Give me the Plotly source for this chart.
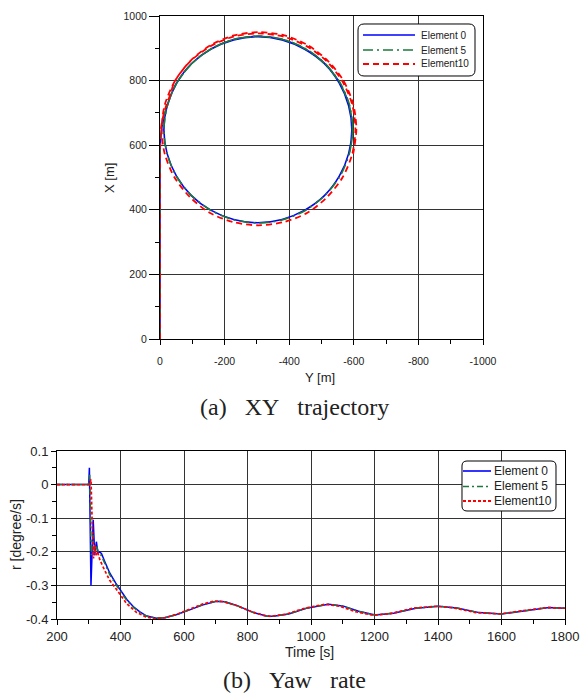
import plotly.graph_objects as go

# ---------------- data: XY trajectory ----------------
names = ["Element 0", "Element 5", "Element10"]

traj_e0_Y = [0, 0, 0, -1, -4, -10, -22, -36, -51, -97, -157, -228, -303, -378, -448, -509, -555,
             -584, -594, -584, -555, -509, -448, -378, -303, -228, -157, -97, -51, -22, -12,
             -22, -52, -98, -158, -229, -304, -379, -449, -510, -556, -585, -595, -585]
traj_e0_X = [0, 300, 560, 600, 640, 680, 720, 760, 792, 852, 897, 926, 936, 926, 897, 852, 792,
             722, 648, 574, 504, 444, 399, 370, 360, 370, 399, 444, 504, 574, 648,
             722, 793, 853, 898, 927, 937, 927, 898, 853, 793, 723, 649, 574]

traj_e5_Y = [0, 0, 0, -1, -4, -10, -22, -36, -51, -98, -158, -228, -304, -380, -450, -510, -557,
             -586, -596, -586, -557, -510, -450, -380, -304, -228, -158, -98, -51, -22, -12,
             -23, -52, -99, -159, -229, -305, -381, -451, -511, -558, -587, -597, -587]
traj_e5_X = [0, 300, 560, 600, 640, 680, 720, 760, 792, 852, 898, 927, 937, 927, 898, 852, 792,
             723, 648, 573, 503, 444, 398, 369, 359, 369, 398, 444, 503, 573, 648,
             723, 793, 853, 899, 928, 938, 928, 899, 853, 793, 724, 649, 574]

traj_e10_Y = [0, 0, 0, 0, -1, -4, -10, -20, -33, -45, -93, -155, -227, -305, -383, -455, -517,
              -565, -595, -605, -595, -565, -517, -455, -383, -305, -227, -155, -93, -45, -15, -5,
              -15, -47, -95, -157, -229, -307, -385, -457, -519, -568, -598, -608, -598]
traj_e10_X = [0, 300, 560, 600, 630, 660, 690, 725, 760, 797, 859, 906, 936, 946, 936, 906, 859,
              797, 726, 649, 572, 500, 439, 390, 362, 352, 362, 390, 439, 500, 572, 649,
              726, 800, 862, 910, 940, 950, 940, 910, 862, 800, 728, 650, 573]

# ---------------- data: yaw rate ----------------
yaw_e0_t = [200, 300, 302, 307, 314, 317, 319, 324, 329, 333, 340, 350, 366, 385, 403, 420, 440,
            460, 480, 513, 540, 580, 620, 660, 702, 730, 770, 820, 860, 882, 930, 990, 1055,
            1100, 1150, 1202, 1260, 1330, 1402, 1460, 1530, 1602, 1670, 1750, 1800]
yaw_e0_r = [0, 0, 0.05, -0.30, -0.105, -0.2, -0.21, -0.17, -0.205, -0.2, -0.205, -0.228, -0.263,
            -0.293, -0.319, -0.342, -0.363, -0.378, -0.39, -0.398, -0.396, -0.386, -0.372, -0.358,
            -0.347, -0.349, -0.361, -0.381, -0.391, -0.392, -0.385, -0.367, -0.356, -0.361, -0.377,
            -0.388, -0.383, -0.368, -0.362, -0.367, -0.381, -0.385, -0.376, -0.366, -0.368]

yaw_e5_t = [200, 300, 303, 308, 313, 318, 324, 330, 340, 350, 366, 385, 400, 420, 440, 460, 480,
            512, 540, 580, 620, 660, 700, 728, 768, 818, 858, 880, 928, 988, 1053, 1098, 1148,
            1200, 1258, 1328, 1400, 1458, 1528, 1600, 1668, 1748, 1800]
yaw_e5_r = [0, 0, 0.03, -0.21, -0.15, -0.2, -0.18, -0.2, -0.212, -0.232, -0.268, -0.297, -0.318,
            -0.345, -0.365, -0.38, -0.391, -0.398, -0.396, -0.386, -0.371, -0.357, -0.347, -0.349,
            -0.361, -0.381, -0.391, -0.392, -0.385, -0.367, -0.356, -0.361, -0.377, -0.388, -0.383,
            -0.368, -0.362, -0.367, -0.381, -0.385, -0.376, -0.366, -0.368]

yaw_e10_t = [200, 300, 303, 307, 311, 315, 319, 323, 328, 335, 350, 366, 382, 400, 420, 450, 480,
             510, 540, 580, 620, 660, 695, 720, 760, 810, 850, 872, 920, 980, 1045, 1090, 1140,
             1195, 1250, 1320, 1395, 1450, 1520, 1595, 1660, 1745, 1800]
yaw_e10_r = [0, 0, 0.005, 0.016, -0.12, -0.22, -0.18, -0.21, -0.2, -0.224, -0.255, -0.285, -0.305,
             -0.33, -0.355, -0.38, -0.394, -0.399, -0.396, -0.385, -0.37, -0.355, -0.347, -0.348,
             -0.358, -0.377, -0.389, -0.392, -0.386, -0.368, -0.356, -0.362, -0.378, -0.389, -0.384,
             -0.368, -0.362, -0.367, -0.381, -0.385, -0.376, -0.366, -0.368]

# ---------------- tick labels ----------------
xy_x_vals = [0, -200, -400, -600, -800, -1000]
xy_x_text = ["0", "-200", "-400", "-600", "-800", "-1000"]
xy_y_vals = [0, 200, 400, 600, 800, 1000]
xy_y_text = ["0", "200", "400", "600", "800", "1000"]
yaw_x_vals = [200, 400, 600, 800, 1000, 1200, 1400, 1600, 1800]
yaw_x_text = ["200", "400", "600", "800", "1000", "1200", "1400", "1600", "1800"]
yaw_y_vals = [0.1, 0, -0.1, -0.2, -0.3, -0.4]
yaw_y_text = ["0.1", "0", "-0.1", "-0.2", "-0.3", "-0.4"]

axis_titles = ["Y [m]", "X [m]", "Time [s]", "r [degree/s]"]
NB = "\u00a0"
captions = ["(a)" + NB * 3 + "XY" + NB * 3 + "trajectory", "(b)" + NB * 3 + "Yaw" + NB * 3 + "rate"]

# ---------------- styling ----------------
W, H = 581, 695
colors = ["#0000ff", "#1b7a3b", "#ff0000"]
top_dash = ["solid", "10px,4px,2px,4px", "6px,4px"]
bot_dash = ["solid", "6px,3px,2px,3px", "3px,2px"]
widths = [1.6, 1.6, 1.8]
FONT = "Liberation Sans, Arial, sans-serif"
SERIF = "Liberation Serif, Times New Roman, serif"
GRID = "#333333"
TXT = "#222"

fig = go.Figure()

traj = [(traj_e0_Y, traj_e0_X), (traj_e5_Y, traj_e5_X), (traj_e10_Y, traj_e10_X)]
for i, (yy, xx) in enumerate(traj):
    fig.add_trace(go.Scatter(x=yy, y=xx, mode="lines", name=names[i], showlegend=False,
                             line=dict(color=colors[i], width=widths[i], dash=top_dash[i],
                                       shape="spline", smoothing=0.8),
                             xaxis="x", yaxis="y"))

yaw = [(yaw_e0_t, yaw_e0_r), (yaw_e5_t, yaw_e5_r), (yaw_e10_t, yaw_e10_r)]
for i, (tt, rr) in enumerate(yaw):
    fig.add_trace(go.Scatter(x=tt, y=rr, mode="lines", name=names[i], showlegend=False,
                             line=dict(color=colors[i], width=widths[i] - 0.1, dash=bot_dash[i]),
                             xaxis="x2", yaxis="y2"))


def px_x(p):
    return p / W


def px_y(p):
    return 1 - p / H


def axis_common(size):
    return dict(showline=True, linecolor="black", linewidth=1, mirror=True,
                showgrid=True, gridcolor=GRID, gridwidth=1, zeroline=False,
                ticks="outside", ticklen=5, tickcolor="black", tickwidth=1,
                tickfont=dict(family=FONT, size=size, color=TXT),
                tickmode="array", automargin=False)


def rounded_box(x0, y0, x1, y1, r):
    X = lambda p: f"{px_x(p):.5f}"
    Y = lambda p: f"{px_y(p):.5f}"
    return (f"M {X(x0 + r)},{Y(y0)} L {X(x1 - r)},{Y(y0)} Q {X(x1)},{Y(y0)} {X(x1)},{Y(y0 + r)} "
            f"L {X(x1)},{Y(y1 - r)} Q {X(x1)},{Y(y1)} {X(x1 - r)},{Y(y1)} "
            f"L {X(x0 + r)},{Y(y1)} Q {X(x0)},{Y(y1)} {X(x0)},{Y(y1 - r)} "
            f"L {X(x0)},{Y(y0 + r)} Q {X(x0)},{Y(y0)} {X(x0 + r)},{Y(y0)} Z")


minor_cfg = dict(ticks="outside", ticklen=4, tickcolor="black", showgrid=False)

xa = axis_common(10.5)
xa.update(domain=[px_x(160), px_x(483)], range=[0, -1000], tickvals=xy_x_vals, ticktext=xy_x_text,
          minor=dict(dtick=100, **minor_cfg), anchor="y", ticklabelstandoff=7)
ya = axis_common(10.5)
ya.update(domain=[px_y(339), px_y(16)], range=[0, 1000], tickvals=xy_y_vals, ticktext=xy_y_text,
          minor=dict(dtick=100, **minor_cfg), ticklen=10, anchor="x")
xa2 = axis_common(13)
xa2.update(domain=[px_x(57), px_x(565)], range=[200, 1800], tickvals=yaw_x_vals, ticktext=yaw_x_text,
           minor=dict(dtick=100, **minor_cfg), anchor="y2")
ya2 = axis_common(13)
ya2.update(domain=[px_y(619), px_y(451)], range=[-0.4, 0.1], tickvals=yaw_y_vals, ticktext=yaw_y_text,
           minor=dict(dtick=0.05, **minor_cfg), anchor="x2")

shapes = [
    dict(type="path", xref="paper", yref="paper", path=rounded_box(358, 24, 475, 76, 6),
         line=dict(color="black", width=1), fillcolor="white", layer="above"),
    dict(type="path", xref="paper", yref="paper", path=rounded_box(462, 461, 556, 511, 5),
         line=dict(color="black", width=1), fillcolor="white", layer="above"),
]
annotations = []

# legend entries (sample line + label), drawn as paper shapes / texts
legend_specs = [
    dict(rows=[35, 50, 64], x0=363, x1=415, tx=419, size=10, dashes=top_dash),
    dict(rows=[471, 486.5, 501], x0=463, x1=491, tx=492, size=12, dashes=bot_dash),
]
for spec in legend_specs:
    for i, ry in enumerate(spec["rows"]):
        shapes.append(dict(type="line", xref="paper", yref="paper",
                           x0=px_x(spec["x0"]), x1=px_x(spec["x1"]), y0=px_y(ry), y1=px_y(ry),
                           line=dict(color=colors[i], width=widths[i], dash=spec["dashes"][i]),
                           layer="above"))
        annotations.append(dict(text=names[i], xref="paper", yref="paper",
                                x=px_x(spec["tx"]), y=px_y(ry), xanchor="left", yanchor="middle",
                                showarrow=False, font=dict(family=FONT, size=spec["size"], color=TXT)))

# axis titles
title_specs = [
    (axis_titles[0], 320, 377, 0, 13),
    (axis_titles[1], 110, 178, -90, 13),
    (axis_titles[2], 309, 652, 0, 14),
    (axis_titles[3], 16, 535, -90, 14),
]
for txt, cx, cy, ang, sz in title_specs:
    annotations.append(dict(text=txt, xref="paper", yref="paper", x=px_x(cx), y=px_y(cy),
                            xanchor="center", yanchor="middle", showarrow=False, textangle=ang,
                            font=dict(family=FONT, size=sz, color=TXT)))

# captions
for txt, cy in zip(captions, [407, 680]):
    annotations.append(dict(text=txt, xref="paper", yref="paper", x=px_x(294), y=px_y(cy),
                            xanchor="center", yanchor="middle", showarrow=False,
                            font=dict(family=SERIF, size=24, color=TXT)))

fig.update_layout(
    width=W, height=H,
    margin=dict(l=0, r=0, t=0, b=0, pad=0),
    paper_bgcolor="white", plot_bgcolor="white",
    showlegend=False,
    xaxis=xa, yaxis=ya, xaxis2=xa2, yaxis2=ya2,
    shapes=shapes, annotations=annotations,
)

fig.write_html("out.html", config={"displayModeBar": False},
               post_script="document.body.style.margin='0px';document.body.style.overflow='hidden';")
